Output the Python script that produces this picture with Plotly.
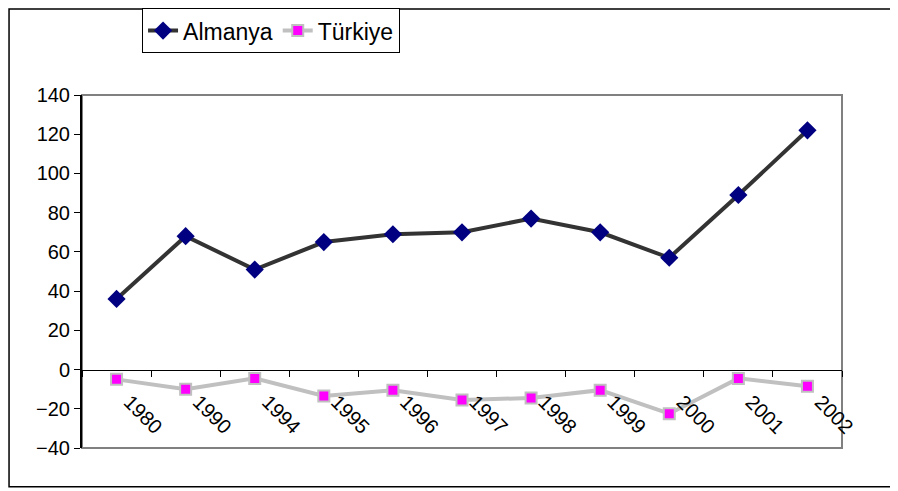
import plotly.graph_objects as go

years = ['1980', '1990', '1994', '1995', '1996', '1997', '1998', '1999', '2000', '2001', '2002']
almanya = [36, 68, 51, 65, 69, 70, 77, 70, 57, 89, 122]
turkiye = [-5, -10, -4.5, -13.5, -10.5, -15.5, -14.5, -10.5, -22.5, -4.5, -8.5]

y_min, y_max = -40, 140

fig = go.Figure()
fig.add_trace(go.Scatter(x=years, y=almanya, name='Almanya', mode='lines+markers',
                         line=dict(color='#333333', width=4),
                         marker=dict(symbol='diamond', size=14, color='#000080')))
fig.add_trace(go.Scatter(x=years, y=turkiye, name='Türkiye', mode='lines+markers',
                         line=dict(color='#C0C0C0', width=4),
                         marker=dict(symbol='square', size=11, color='#FF00FF',
                                     line=dict(color='#C0C0C0', width=2))))

# plot frame (gray) and outer chart border (black, its right side runs off the page)
fig.add_shape(type='rect', xref='paper', yref='paper', x0=0, x1=1, y0=0, y1=1,
              line=dict(color='#808080', width=2), layer='below')
fig.add_shape(type='rect', xref='paper', yref='paper', x0=-0.096, x1=1.1, y0=-0.110, y1=1.2436,
              line=dict(color='black', width=1.5), layer='below')

# page body has an 8px margin, so the figure is a little smaller than the window
fig.update_layout(
    width=890, height=483,
    margin=dict(l=74, r=56, t=87, b=43, autoexpand=False),
    paper_bgcolor='white', plot_bgcolor='white',
    font=dict(family='Liberation Sans, Arial', color='black', size=20),
    showlegend=True,
    legend=dict(orientation='h', x=0.079, y=1.246, xanchor='left', yanchor='top',
                bordercolor='black', borderwidth=1, bgcolor='white',
                font=dict(family='Liberation Sans, Arial', size=23),
                itemwidth=30, tracegroupgap=0),
    xaxis=dict(type='category', range=[-0.5, len(years) - 0.5],
               anchor='free', position=(0 - y_min) / (y_max - y_min),
               showline=True, linecolor='black', linewidth=1, automargin=False,
               ticks='outside', tickson='boundaries', ticklen=6, tickcolor='black',
               tickangle=45, showgrid=False, zeroline=False,
               ticklabelshift=13, ticklabelstandoff=12),
    yaxis=dict(range=[y_min, y_max], dtick=20, showline=True, linecolor='black', linewidth=2,
               automargin=False,
               ticks='outside', ticklen=6, tickcolor='black', showgrid=False, zeroline=False),
)

fig.write_html('out.html')
